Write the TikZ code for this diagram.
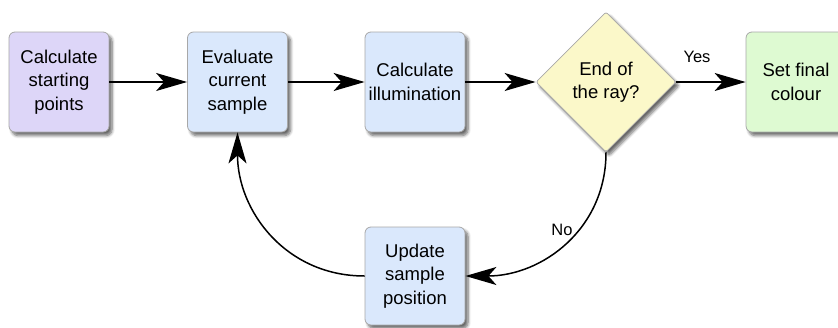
\documentclass[tikz,border=0pt]{standalone}
\usepackage{fontspec}
\setmainfont{Liberation Sans}
\usetikzlibrary{arrows.meta,shapes.geometric,shadows.blur}

\definecolor{startfill}{HTML}{DDD6F8}
\definecolor{stepfill}{HTML}{DAE8FC}
\definecolor{askfill}{HTML}{FBF8C9}
\definecolor{endfill}{HTML}{DEFAD2}
\definecolor{edgegray}{HTML}{A8A8A8}

\tikzset{
  softshadow/.style={blur shadow={shadow xshift=3pt, shadow yshift=-3.5pt,
      shadow blur steps=6, shadow blur radius=3pt, shadow opacity=60}},
  stepbox/.style={draw=edgegray, line width=0.8pt, rounded corners=6pt,
      minimum width=100pt, minimum height=100pt, inner sep=0pt,
      align=center, font=\fontsize{18.5}{23.5}\selectfont, softshadow},
  askbox/.style={diamond, draw=edgegray, line width=0.8pt, rounded corners=2pt,
      minimum width=140pt, minimum height=140pt, inner sep=0pt, aspect=1,
      align=center, font=\fontsize{18.5}{23.5}\selectfont, softshadow},
  flow/.style={line width=1.5pt, -{Stealth[length=31pt, width=18pt, inset=8pt]}},
  tag/.style={font=\fontsize{16.5}{19}\selectfont}
}

\begin{document}
\begin{tikzpicture}[x=1pt, y=-1pt]
  \useasboundingbox (0,0) rectangle (838,327);

  \node[stepbox, fill=startfill] (start) at (59,82) {Calculate\\starting\\points};
  \node[stepbox, fill=stepfill] (eval) at (237.5,82) {Evaluate\\current\\sample};
  \node[stepbox, fill=stepfill] (illum) at (415,82) {Calculate\\illumination};
  \node[askbox, fill=askfill] (ask) at (606,82) {End of\\the ray?};
  \node[stepbox, fill=endfill] (final) at (796,82) {Set final\\colour};
  \node[stepbox, fill=stepfill, minimum height=98pt] (update) at (415,276) {Update\\sample\\position};

  \draw[flow] (start) -- (eval);
  \draw[flow] (eval) -- (illum);
  \draw[flow] (illum) -- (ask);
  \draw[flow] (ask) -- (final);
  \draw[flow] (ask.south) to[out=-90, in=0, looseness=1.05] (update.east);
  \draw[flow] (update.west) to[out=180, in=-90, looseness=1.05] (eval.south);

  \node[tag] (yes) at (697,57) {Yes};
  \node[tag] (no) at (562,230) {No};
\end{tikzpicture}
\end{document}
